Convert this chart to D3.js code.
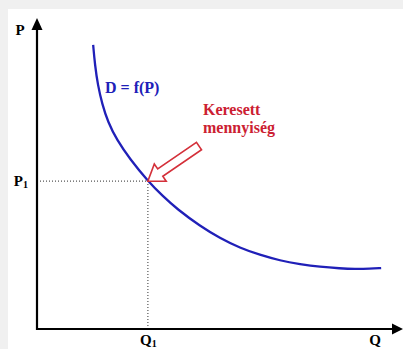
<!DOCTYPE html>
<html>
<head>
<meta charset="utf-8">
<script src="https://cdn.jsdelivr.net/npm/d3@7"></script>
<style>
  html, body { margin: 0; padding: 0; background: #f0f0f0; }
  svg { display: block; }
</style>
</head>
<body>
<div id="chart"></div>
<script>
// demand curve D = f(P) (Q and P in arbitrary units 0..10)
const demandQ = [1.56, 1.61, 1.69, 1.81, 1.97, 2.22, 2.58, 3.08, 3.50, 3.89, 4.53, 5.08, 5.64, 6.19, 6.75, 7.31, 7.86, 8.42, 8.83, 9.25, 9.56];
const demandP = [9.47, 8.80, 8.13, 7.50, 6.90, 6.30, 5.67, 4.93, 4.42, 4.00, 3.43, 3.03, 2.70, 2.47, 2.28, 2.16, 2.07, 2.02, 2.00, 2.01, 2.03];

const xTickValues = [3.08];
const xTickNames = [["Q", "1"]];
const yTickValues = [4.93];
const yTickNames = [["P", "1"]];
const xTitle = "Q";
const yTitle = "P";
const curveLabel = "D = f(P)";
const calloutLines = ["Keresett", "mennyiség"];

const WIDTH = 403;
const HEIGHT = 349;
const BLUE = '#2020b8';
const RED = '#cc2032';
const ARROW_RED = '#d4303a';
const SERIF = '"Liberation Serif", "Times New Roman", serif';

const svg = d3.select('#chart')
    .append('svg')
    .attr('width', WIDTH)
    .attr('height', HEIGHT)
    .style('font-family', SERIF)
    .style('font-weight', 'bold');

// white card on the grey page
svg.append('rect')
    .attr('x', 8).attr('y', 9)
    .attr('width', WIDTH - 8).attr('height', HEIGHT - 9)
    .attr('fill', '#ffffff');

const x = d3.scaleLinear().domain([0, 10]).range([37, 397]);
const y = d3.scaleLinear().domain([0, 10]).range([329, 29]);

const x0 = x(0), y0 = y(0);
const xEnd = x.range()[1] + 6;   // arrow tip of Q axis
const yEnd = y.range()[1] - 11;  // arrow tip of P axis

// guide lines to the point (Q1, P1)
const q1 = xTickValues[0], p1 = yTickValues[0];
svg.append('line')
    .attr('x1', x0).attr('y1', y(p1))
    .attr('x2', x(q1)).attr('y2', y(p1))
    .attr('stroke', '#555').attr('stroke-width', 1.2)
    .attr('stroke-dasharray', '1,2');
svg.append('line')
    .attr('x1', x(q1)).attr('y1', y(p1))
    .attr('x2', x(q1)).attr('y2', y0)
    .attr('stroke', '#555').attr('stroke-width', 1.2)
    .attr('stroke-dasharray', '1,2');

// axes lines with arrow heads
svg.append('line')
    .attr('x1', x0).attr('y1', y0 + 1)
    .attr('x2', x0).attr('y2', yEnd + 6)
    .attr('stroke', '#000').attr('stroke-width', 2.2);
svg.append('line')
    .attr('x1', x0 - 1).attr('y1', y0)
    .attr('x2', xEnd - 6).attr('y2', y0)
    .attr('stroke', '#000').attr('stroke-width', 2.2);
svg.append('path')
    .attr('d', `M${x0},${yEnd}L${x0 + 5.5},${yEnd + 12}L${x0 - 5.5},${yEnd + 12}Z`)
    .attr('fill', '#000');
svg.append('path')
    .attr('d', `M${xEnd},${y0}L${xEnd - 11},${y0 - 5.5}L${xEnd - 11},${y0 + 5.5}Z`)
    .attr('fill', '#000');

// tick labels through d3 axes, with a subscript
function subscriptLabels(sel, names) {
    sel.selectAll('.tick text').each(function(d, i) {
        const t = d3.select(this).text('');
        t.append('tspan').text(names[i][0]);
        t.append('tspan').attr('font-size', 10).attr('dy', 2).text(names[i][1]);
    });
}

const gx = svg.append('g')
    .attr('transform', `translate(0,${y0})`)
    .call(d3.axisBottom(x).tickValues(xTickValues).tickSize(0).tickPadding(5.5));
const gy = svg.append('g')
    .attr('transform', `translate(${x0},0)`)
    .call(d3.axisLeft(y).tickValues(yTickValues).tickSize(0).tickPadding(9));
[gx, gy].forEach(g => {
    g.select('.domain').remove();
    g.selectAll('.tick text')
        .attr('fill', '#000')
        .attr('font-size', 15)
        .style('font-family', SERIF)
        .style('font-weight', 'bold');
});
subscriptLabels(gx, xTickNames);
subscriptLabels(gy, yTickNames);

// axis titles
svg.append('text')
    .attr('x', 375).attr('y', y0 + 16)
    .attr('text-anchor', 'middle')
    .attr('font-size', 15)
    .style('font-family', SERIF)
    .text(xTitle);
svg.append('text')
    .attr('x', 20).attr('y', 35)
    .attr('text-anchor', 'middle')
    .attr('font-size', 15)
    .style('font-family', SERIF)
    .text(yTitle);

// demand curve
const demand = demandQ.map((q, i) => [q, demandP[i]]);
svg.append('path')
    .datum(demand)
    .attr('d', d3.line()
        .x(d => x(d[0]))
        .y(d => y(d[1]))
        .curve(d3.curveBasis))
    .attr('fill', 'none')
    .attr('stroke', BLUE)
    .attr('stroke-width', 2.3);

svg.append('text')
    .attr('x', 105).attr('y', 93)
    .attr('font-size', 16)
    .attr('fill', BLUE)
    .style('font-family', SERIF)
    .text(curveLabel);

// hollow callout arrow pointing at (Q1, P1)
const tipX = x(q1), tipY = y(p1);
const angle = Math.atan2(-35, 51) * 180 / Math.PI;
const arrowShape = [[0, 0], [15, -10.5], [15, -4.5], [62, -4.5], [62, 4.5], [15, 4.5], [15, 10.5]];
svg.append('path')
    .attr('d', 'M' + arrowShape.map(p => p.join(',')).join('L') + 'Z')
    .attr('transform', `translate(${tipX},${tipY}) rotate(${angle})`)
    .attr('fill', '#fff')
    .attr('stroke', ARROW_RED)
    .attr('stroke-width', 1.6)
    .attr('stroke-linejoin', 'miter');

const callout = svg.append('text')
    .attr('x', 203).attr('y', 115)
    .attr('font-size', 16)
    .attr('fill', RED)
    .style('font-family', SERIF);
calloutLines.forEach((line, i) => {
    callout.append('tspan')
        .attr('x', 203)
        .attr('dy', i === 0 ? 0 : 18)
        .text(line);
});
</script>
</body>
</html>
